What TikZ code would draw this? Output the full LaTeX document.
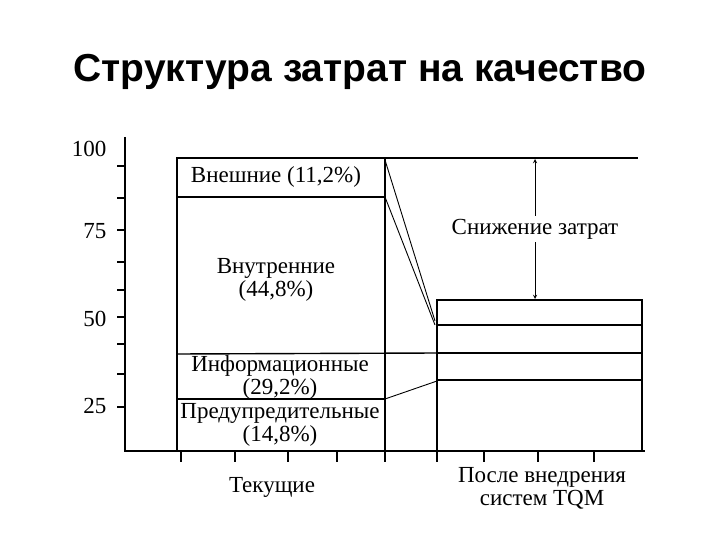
\documentclass[tikz,border=0pt]{standalone}
\usepackage{fontspec}
\setmainfont{Liberation Serif}
\newfontfamily\titlefont{Liberation Sans}
\begin{document}
\begin{tikzpicture}[x=1pt,y=-1pt,line width=1.4pt,
  lbl/.style={font=\fontsize{23}{23}\selectfont,align=center,inner sep=1pt},
  num/.style={font=\fontsize{23}{24}\selectfont,inner sep=1pt},
  tk/.style={line width=1.1pt}]
\useasboundingbox (0,0) rectangle (720,540);
\node[font=\titlefont\bfseries\fontsize{39}{42}\selectfont] (title) at (360,72) {Структура затрат на качество};
% axes
\coordinate (ytop) at (125,137);
\coordinate (org) at (125,451);
\coordinate (xend) at (645,451);
\draw (ytop) -- (org) -- (xend);
\foreach \y in {166,198,230,262,290,317,344,374,407} \draw[tk] (117,\y) -- (125,\y);
\foreach \x in {181,235,288,337,385,437,484,538,594} \draw[tk] (\x,451) -- (\x,462);
\node[num,anchor=east] (l100) at (108,149) {100};
\node[num,anchor=east] (l75) at (108,231) {75};
\node[num,anchor=east] (l50) at (108,319) {50};
\node[num,anchor=east] (l25) at (108,406) {25};
% left bar
\draw (177,158) rectangle (385,451);
\draw (177,197) -- (385,197);
\draw (177,354) -- (437,353);
\draw (177,399) -- (385,399);
% top line
\coordinate (tl) at (385,158);
\coordinate (tr) at (638,158);
\draw (tl) -- (tr);
% right bar
\draw (437,300) rectangle (642,451);
\foreach \y in {325,353,380} \draw (437,\y) -- (642,\y);
% diagonals
\draw[line width=0.9pt] (385,160) -- (435,321);
\draw[line width=0.9pt] (385,197) -- (435,325);
\draw[line width=0.9pt] (385,399) -- (437,381);
% arrow
\coordinate (at) at (535,159);
\coordinate (ab) at (535,299);
\draw[line width=0.9pt,<->,>=stealth] (at) -- (ab);
\node[lbl,fill=white,inner sep=3pt] (red) at (535,229) {Снижение затрат};
% labels
\node[lbl] (ext) at (276,177) {Внешние (11,2\%)};
\node[lbl] (int) at (276,280) {Внутренние\\(44,8\%)};
\node[lbl] (inf) at (280,377) {Информационные\\(29,2\%)};
\node[lbl] (prev) at (280,425) {Предупредительные\\(14,8\%)};
\node[lbl] (cur) at (272,487) {Текущие};
\node[lbl] (after) at (542,488) {После внедрения\\систем TQM};
\end{tikzpicture}
\end{document}
